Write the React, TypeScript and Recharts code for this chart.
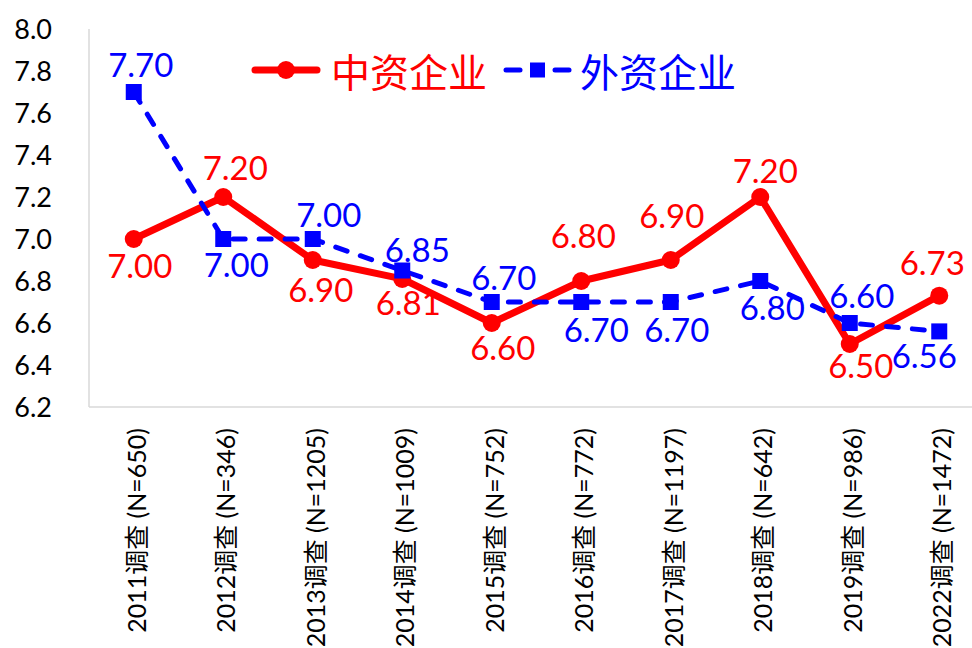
import React from 'react';
import { LineChart, Line, XAxis, YAxis, Legend, LabelList } from 'recharts';

// Survey rounds and sample sizes
const categories = [
  '2011调查 (N=650)',
  '2012调查 (N=346)',
  '2013调查 (N=1205)',
  '2014调查 (N=1009)',
  '2015调查 (N=752)',
  '2016调查 (N=772)',
  '2017调查 (N=1197)',
  '2018调查 (N=642)',
  '2019调查 (N=986)',
  '2022调查 (N=1472)',
];

// Average scores per survey
const chineseFirms = [7.0, 7.2, 6.9, 6.81, 6.6, 6.8, 6.9, 7.2, 6.5, 6.73];
const foreignFirms = [7.7, 7.0, 7.0, 6.85, 6.7, 6.7, 6.7, 6.8, 6.6, 6.56];

const yTicks = [6.2, 6.4, 6.6, 6.8, 7.0, 7.2, 7.4, 7.6, 7.8, 8.0];

const seriesNames = ['中资企业', '外资企业'];

// Where each value label sits relative to its point: [dx, baseline dy]
const chineseLabelPlacement = [
  [6, 39], [12, -17], [8, 42], [6, 36], [11, 37],
  [2, -33], [1, -32], [5, -14], [11, 34], [-7, -21],
];
const foreignLabelPlacement = [
  [7, -15], [13, 38], [16, -12], [15, -9], [12, -12],
  [15, 40], [6, 40], [12, 39], [12, -15], [-15, 37],
];

const RED = '#ff0000';
const BLUE = '#0000ff';
const AXIS = '#d9d9d9';
const LATIN = "Lato, 'Noto Sans CJK SC', sans-serif";

const data = categories.map((category, i) => ({
  category,
  chinese: chineseFirms[i],
  foreign: foreignFirms[i],
}));

const makeValueLabel = (placement: number[][], color: string) => (props: any) => {
  const { x, y, value, index } = props;
  const [dx, dy] = placement[index] || [0, -14];
  return (
    <text
      x={x + dx}
      y={y + dy}
      fill={color}
      fontSize={33}
      fontFamily={LATIN}
      textAnchor="middle"
    >
      {Number(value).toFixed(2)}
    </text>
  );
};

const CategoryTick = (props: any) => {
  const { x, y, payload } = props;
  return (
    <g transform={`translate(${x},${y})`}>
      <text
        transform="rotate(-90)"
        x={-21}
        y={0}
        dy={12}
        textAnchor="end"
        fill="#000"
        fontSize={25}
        fontFamily={LATIN}
      >
        {payload.value}
      </text>
    </g>
  );
};

const LegendContent = () => (
  <div
    style={{
      display: 'flex',
      alignItems: 'center',
      fontFamily: "'Noto Sans CJK SC', sans-serif",
      fontSize: 39,
      lineHeight: '46px',
      whiteSpace: 'nowrap',
    }}
  >
    <svg width={70} height={24} style={{ display: 'block' }}>
      <line x1={4} y1={12} x2={66} y2={12} stroke={RED} strokeWidth={7} strokeLinecap="round" />
      <circle cx={35} cy={12} r={9} fill={RED} />
    </svg>
    <span style={{ color: RED, marginLeft: 10 }}>{seriesNames[0]}</span>
    <svg width={72} height={24} style={{ display: 'block', marginLeft: 15 }}>
      <line x1={4} y1={12} x2={18} y2={12} stroke={BLUE} strokeWidth={5} strokeLinecap="round" />
      <rect x={28} y={4.5} width={15} height={15} fill={BLUE} />
      <line x1={53} y1={12} x2={67} y2={12} stroke={BLUE} strokeWidth={5} strokeLinecap="round" />
    </svg>
    <span style={{ color: BLUE, marginLeft: 6 }}>{seriesNames[1]}</span>
  </div>
);

export default function App() {
  return (
    <div
      style={{
        position: 'absolute',
        left: 0,
        top: 0,
        width: 972,
        height: 648,
        overflow: 'hidden',
        background: '#fff',
      }}
    >
      <LineChart
        width={984}
        height={648}
        data={data}
        margin={{ top: 29, right: 0, bottom: 0, left: 0 }}
      >
        <XAxis
          dataKey="category"
          interval={0}
          height={241}
          padding={{ left: 44.75, right: 44.75 }}
          axisLine={{ stroke: AXIS, strokeWidth: 1.5 }}
          tickLine={false}
          tickSize={0}
          tickMargin={0}
          tick={<CategoryTick />}
        />
        <YAxis
          width={89}
          type="number"
          domain={[6.2, 8.0]}
          ticks={yTicks}
          interval={0}
          axisLine={{ stroke: AXIS, strokeWidth: 1.5 }}
          tickLine={false}
          tickSize={0}
          tickMargin={37}
          tickFormatter={(v: number) => v.toFixed(1)}
          tick={{ fill: '#000', fontSize: 27, fontFamily: LATIN }}
        />
        <Legend
          layout="horizontal"
          verticalAlign="middle"
          align="center"
          content={<LegendContent />}
          wrapperStyle={{ top: 47, left: 251, width: 560, height: 50 }}
        />
        <Line
          name={seriesNames[0]}
          dataKey="chinese"
          stroke={RED}
          strokeWidth={7}
          strokeLinejoin="round"
          dot={{ r: 9, fill: RED, stroke: RED, strokeWidth: 0 }}
          activeDot={false}
          isAnimationActive={false}
        >
          <LabelList dataKey="chinese" content={makeValueLabel(chineseLabelPlacement, RED)} />
        </Line>
        <Line
          name={seriesNames[1]}
          dataKey="foreign"
          stroke={BLUE}
          strokeWidth={5}
          strokeDasharray="12 14"
          strokeLinecap="round"
          dot={(p: any) => (
            <rect
              key={`sq-${p.index}`}
              x={p.cx - 8}
              y={p.cy - 8}
              width={16}
              height={16}
              fill={BLUE}
            />
          )}
          activeDot={false}
          isAnimationActive={false}
        >
          <LabelList dataKey="foreign" content={makeValueLabel(foreignLabelPlacement, BLUE)} />
        </Line>
      </LineChart>
    </div>
  );
}
